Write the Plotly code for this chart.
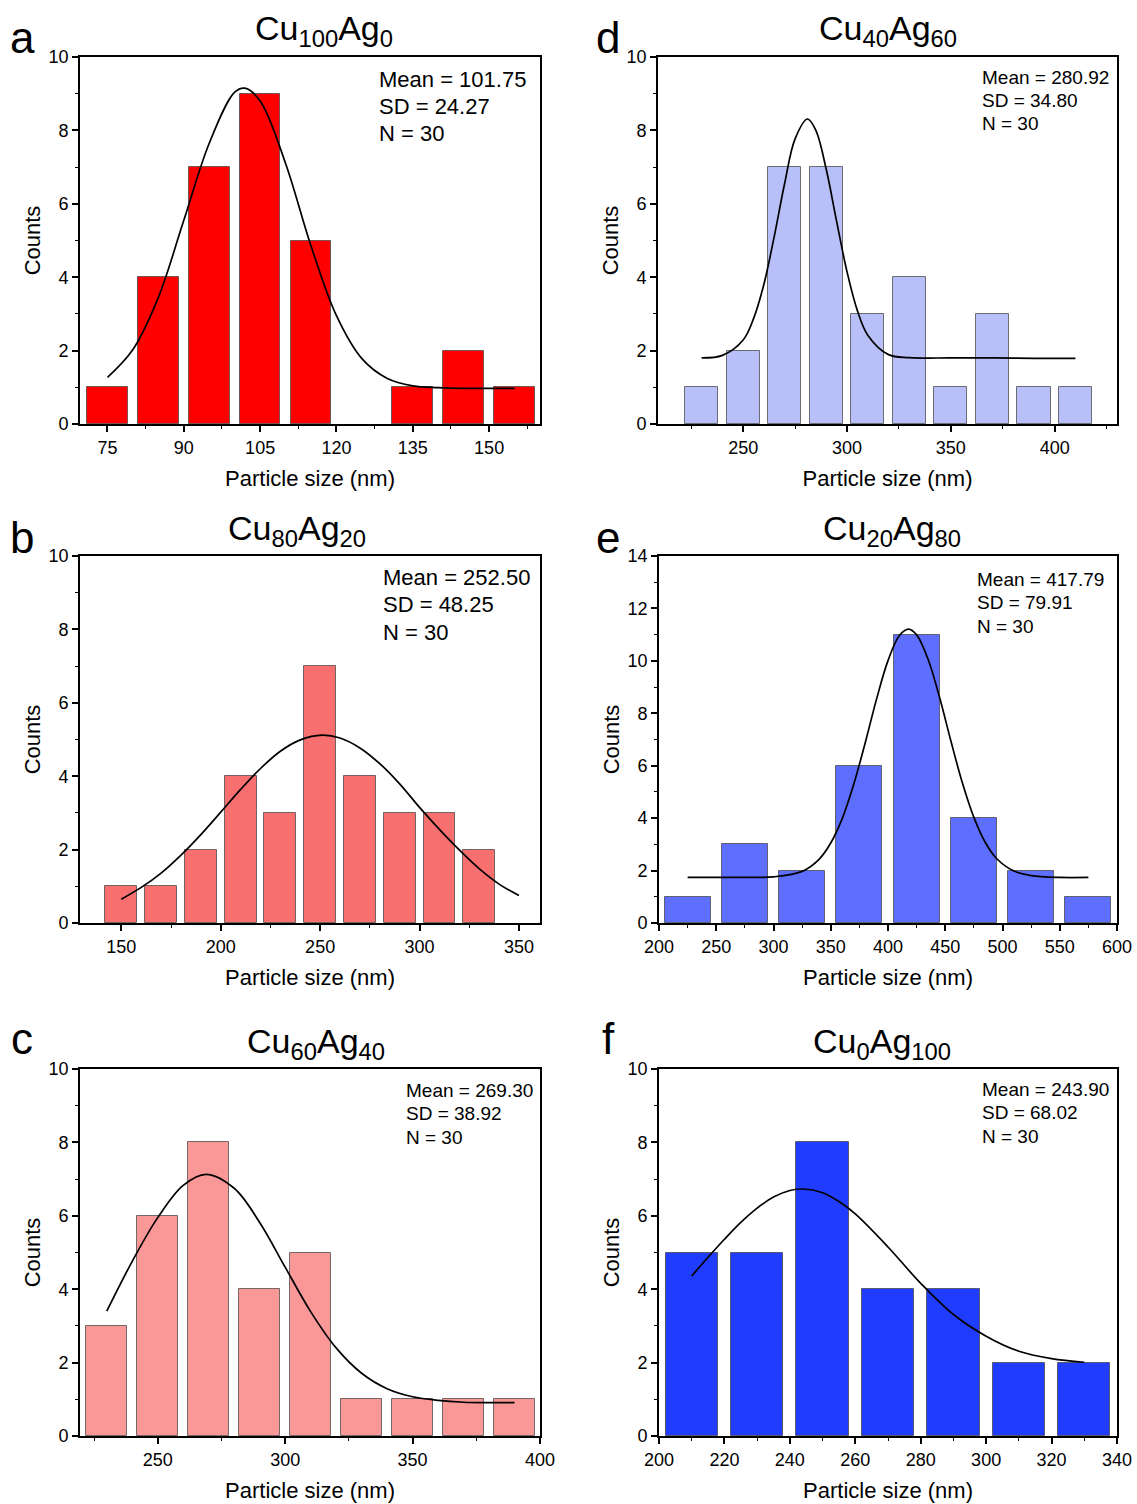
import plotly.graph_objects as go

# ---------------- data ----------------
a_centers = [75, 85, 95, 105, 115, 125, 135, 145, 155]
a_counts = [1, 4, 7, 9, 5, 0, 1, 2, 1]
a_fit_x = [75, 80, 85, 90, 95, 100, 102, 105, 110, 115, 120, 125, 130, 135, 140, 145, 150, 155]
a_fit_y = [1.27, 2.03, 3.45, 5.55, 7.65, 9.04, 9.15, 8.80, 7.10, 4.85, 2.95, 1.78, 1.24, 1.04, 0.99, 0.97, 0.97, 0.97]

b_centers = [150, 170, 190, 210, 230, 250, 270, 290, 310, 330]
b_counts = [1, 1, 2, 4, 3, 7, 4, 3, 3, 2]
b_fit_x = [150, 160, 170, 180, 190, 200, 210, 220, 230, 240, 251, 260, 270, 280, 290, 300, 310, 320, 330, 340, 350]
b_fit_y = [0.65, 0.97, 1.36, 1.85, 2.41, 3.02, 3.64, 4.21, 4.68, 4.99, 5.12, 5.04, 4.77, 4.34, 3.79, 3.15, 2.55, 1.99, 1.48, 1.06, 0.75]

c_centers = [230, 250, 270, 290, 310, 330, 350, 370, 390]
c_counts = [3, 6, 8, 4, 5, 1, 1, 1, 1]
c_fit_x = [230, 240, 250, 260, 269, 280, 290, 300, 310, 320, 330, 340, 350, 360, 370, 380, 390]
c_fit_y = [3.40, 4.76, 5.95, 6.83, 7.13, 6.75, 5.82, 4.60, 3.39, 2.40, 1.71, 1.29, 1.07, 0.97, 0.92, 0.91, 0.91]

d_centers = [230, 250, 270, 290, 310, 330, 350, 370, 390, 410]
d_counts = [1, 2, 7, 7, 3, 4, 1, 3, 1, 1]
d_fit_x = [230, 240, 250, 255, 260, 265, 270, 275, 281, 285, 290, 295, 300, 305, 310, 320, 330, 350, 370, 390, 410]
d_fit_y = [1.80, 1.87, 2.29, 2.87, 3.81, 5.12, 6.56, 7.77, 8.31, 8.00, 6.94, 5.52, 4.15, 3.09, 2.42, 1.89, 1.81, 1.80, 1.80, 1.79, 1.79]

e_centers = [225, 275, 325, 375, 425, 475, 525, 575]
e_counts = [1, 3, 2, 6, 11, 4, 2, 1]
e_fit_x = [225, 250, 275, 300, 325, 340, 350, 360, 370, 380, 390, 400, 410, 418, 425, 435, 445, 455, 465, 475, 485, 495, 510, 525, 550, 575]
e_fit_y = [1.74, 1.74, 1.74, 1.76, 1.97, 2.44, 3.05, 3.98, 5.28, 6.86, 8.54, 10.01, 10.97, 11.21, 10.99, 10.06, 8.61, 6.93, 5.34, 4.03, 3.07, 2.45, 1.98, 1.81, 1.74, 1.74]

f_centers = [210, 230, 250, 270, 290, 310, 330]
f_counts = [5, 5, 8, 4, 4, 2, 2]
f_fit_x = [210, 215, 220, 225, 230, 235, 240, 244, 250, 255, 260, 270, 280, 290, 300, 310, 320, 330]
f_fit_y = [4.36, 4.87, 5.36, 5.82, 6.21, 6.51, 6.69, 6.73, 6.63, 6.39, 6.05, 5.15, 4.16, 3.31, 2.72, 2.31, 2.11, 2.01]

titles = ["Cu<sub>100</sub>Ag<sub>0</sub>", "Cu<sub>80</sub>Ag<sub>20</sub>", "Cu<sub>60</sub>Ag<sub>40</sub>",
          "Cu<sub>40</sub>Ag<sub>60</sub>", "Cu<sub>20</sub>Ag<sub>80</sub>", "Cu<sub>0</sub>Ag<sub>100</sub>"]
letters = ["a", "b", "c", "d", "e", "f"]
means = ["101.75", "252.50", "269.30", "280.92", "417.79", "243.90"]
sds = ["24.27", "48.25", "38.92", "34.80", "79.91", "68.02"]
ns = [30, 30, 30, 30, 30, 30]

# ---------------- styling / layout ----------------
W, H = 1137, 1504
FONT = "Arial, Liberation Sans, sans-serif"

def px(x):
    return x / W

def py(y):
    return 1 - y / H

panels = [
    dict(c=a_centers, n=a_counts, fx=a_fit_x, fy=a_fit_y, color="#FF0000", bw=10, xr=[69.6, 160], dt=15, t0=75, mdt=7.5,
         ymax=10, box=(80, 540, 57, 424), tpos=(324, 30), spos=(377, 79, 27.5, 22), lpos=(22, 38)),
    dict(c=b_centers, n=b_counts, fx=b_fit_x, fy=b_fit_y, color="#F86F6F", bw=20, xr=[129.2, 360.6], dt=50, t0=150, mdt=25,
         ymax=10, box=(80, 540, 556, 923), tpos=(297, 530), spos=(381, 577, 27.5, 22), lpos=(22, 537)),
    dict(c=c_centers, n=c_counts, fx=c_fit_x, fy=c_fit_y, color="#FA9898", bw=20, xr=[219.5, 400], dt=50, t0=250, mdt=25,
         ymax=10, box=(80, 540, 1069, 1436), tpos=(316, 1043), spos=(404, 1090, 23.5, 19), lpos=(22, 1038)),
    dict(c=d_centers, n=d_counts, fx=d_fit_x, fy=d_fit_y, color="#B9BFF9", bw=20, xr=[209, 430], dt=50, t0=250, mdt=25,
         ymax=10, box=(658, 1117, 57, 424), tpos=(888, 30), spos=(980, 77, 23.5, 19), lpos=(608, 38)),
    dict(c=e_centers, n=e_counts, fx=e_fit_x, fy=e_fit_y, color="#5E6EFF", bw=50, xr=[200, 600], dt=50, t0=200, mdt=25,
         ymax=14, box=(659, 1117, 556, 923), tpos=(892, 530), spos=(975, 579, 23.5, 19), lpos=(608, 537)),
    dict(c=f_centers, n=f_counts, fx=f_fit_x, fy=f_fit_y, color="#1F3CFF", bw=20, xr=[200, 340], dt=20, t0=200, mdt=10,
         ymax=10, box=(659, 1117, 1069, 1436), tpos=(882, 1043), spos=(980, 1089, 23.5, 19), lpos=(608, 1038)),
]

fig = go.Figure()
annotations = []
layout_axes = {}

for i, p in enumerate(panels):
    k = "" if i == 0 else str(i + 1)
    xa, ya = "x" + k, "y" + k
    fig.add_trace(go.Bar(
        x=p["c"], y=p["n"], width=p["bw"] * 0.8, xaxis=xa, yaxis=ya,
        marker=dict(color=p["color"],
                    line=dict(color="rgba(70,70,70,0.75)", width=[1 if v > 0 else 0 for v in p["n"]])),
        showlegend=False, hoverinfo="x+y",
    ))
    fig.add_trace(go.Scatter(
        x=p["fx"], y=p["fy"], mode="lines", xaxis=xa, yaxis=ya,
        line=dict(color="black", width=1.7, shape="spline", smoothing=1.0),
        showlegend=False, hoverinfo="skip",
    ))
    l, r, t, b = p["box"]
    common = dict(showline=True, linecolor="black", linewidth=1.8, mirror=True,
                  ticks="outside", ticklen=6, tickwidth=1.5, tickcolor="black",
                  showgrid=False, zeroline=False, automargin=False,
                  tickfont=dict(family=FONT, size=18, color="black"))
    layout_axes["xaxis" + k] = dict(
        common, domain=[px(l), px(r)], range=p["xr"], anchor=ya,
        tickmode="linear", dtick=p["dt"], tick0=p["t0"],
        minor=dict(ticks="outside", ticklen=3.5, tickwidth=1.3, tickcolor="black", dtick=p["mdt"], tick0=p["t0"], showgrid=False),
        title=dict(text="Particle size (nm)", font=dict(family=FONT, size=22, color="black"), standoff=14),
    )
    layout_axes["yaxis" + k] = dict(
        common, domain=[py(b), py(t)], range=[0, p["ymax"]], anchor=xa,
        tickmode="linear", dtick=2, tick0=0,
        minor=dict(ticks="outside", ticklen=3.5, tickwidth=1.3, tickcolor="black", dtick=1, tick0=0, showgrid=False),
        title=dict(text="Counts", font=dict(family=FONT, size=22, color="black"), standoff=2),
    )
    annotations.append(dict(text=titles[i], x=px(p["tpos"][0]), y=py(p["tpos"][1]), xref="paper", yref="paper",
                            xanchor="center", yanchor="middle", showarrow=False,
                            font=dict(family=FONT, size=34, color="black")))
    annotations.append(dict(text=letters[i], x=px(p["lpos"][0]), y=py(p["lpos"][1]), xref="paper", yref="paper",
                            xanchor="center", yanchor="middle", showarrow=False,
                            font=dict(family=FONT, size=44, color="black")))
    sx, sy, gap, ss = p["spos"]
    for j, line in enumerate([f"Mean = {means[i]}", f"SD = {sds[i]}", f"N = {ns[i]}"]):
        annotations.append(dict(text=line, x=px(sx), y=py(sy + j * gap), xref="paper", yref="paper", align="left",
                                xanchor="left", yanchor="middle", showarrow=False,
                                font=dict(family=FONT, size=ss, color="black")))

fig.update_layout(
    width=W, height=H, margin=dict(l=0, r=0, t=0, b=0, autoexpand=False),
    paper_bgcolor="white", plot_bgcolor="white",
    bargap=0, annotations=annotations, showlegend=False,
    font=dict(family=FONT, color="black"),
    **layout_axes,
)

fig.write_html("out.html")
